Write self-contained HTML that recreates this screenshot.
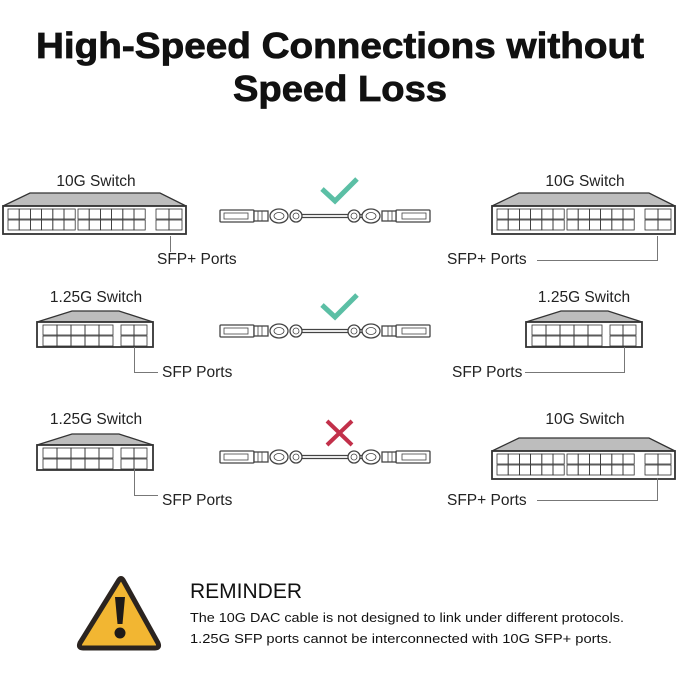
<!DOCTYPE html>
<html><head><meta charset="utf-8"><style>
html,body{margin:0;padding:0;background:#fff;}
svg{display:block;font-family:"Liberation Sans",sans-serif;}
</style></head><body>
<svg id="s" width="680" height="680" viewBox="0 0 680 680" xmlns="http://www.w3.org/2000/svg">
<defs>
<g id="cable" fill="#fff" stroke="#444" stroke-width="1.3">
  <rect x="220" y="-6" width="34" height="12" rx="1"/>
  <rect x="224" y="-3" width="24" height="6" fill="none" stroke-width="0.8"/>
  <rect x="254" y="-5" width="14" height="10"/>
  <line x1="258" y1="-5" x2="258" y2="5" stroke-width="0.8"/><line x1="262" y1="-5" x2="262" y2="5" stroke-width="0.8"/>
  <ellipse cx="279" cy="0" rx="9" ry="7"/><ellipse cx="279" cy="0" rx="5" ry="3.5" stroke-width="0.8"/>
  <ellipse cx="296" cy="0" rx="6" ry="6"/><ellipse cx="296" cy="0" rx="3" ry="3" stroke-width="0.8"/>
  <line x1="302" y1="-1.5" x2="378" y2="-1.5"/><line x1="302" y1="1.5" x2="378" y2="1.5"/>
  <g transform="translate(650,0) scale(-1,1)">
  <rect x="220" y="-6" width="34" height="12" rx="1"/>
  <rect x="224" y="-3" width="24" height="6" fill="none" stroke-width="0.8"/>
  <rect x="254" y="-5" width="14" height="10"/>
  <line x1="258" y1="-5" x2="258" y2="5" stroke-width="0.8"/><line x1="262" y1="-5" x2="262" y2="5" stroke-width="0.8"/>
  <ellipse cx="279" cy="0" rx="9" ry="7"/><ellipse cx="279" cy="0" rx="5" ry="3.5" stroke-width="0.8"/>
  <ellipse cx="296" cy="0" rx="6" ry="6"/><ellipse cx="296" cy="0" rx="3" ry="3" stroke-width="0.8"/>
  </g>
</g>
</defs>
<g stroke="#111" stroke-width="0.8">
<text x="340" y="58" text-anchor="middle" font-size="36" font-weight="bold" fill="#111" textLength="608" lengthAdjust="spacingAndGlyphs">High-Speed Connections without</text>
<text x="340" y="101" text-anchor="middle" font-size="36" font-weight="bold" fill="#111" textLength="214" lengthAdjust="spacingAndGlyphs">Speed Loss</text>
</g>

<g id="sw" fill="none" stroke="#333" stroke-width="1.3"></g>

<g font-size="15.5" fill="#222">
<text x="96" y="186" text-anchor="middle">10G Switch</text>
<text x="585" y="186" text-anchor="middle">10G Switch</text>
<text x="96" y="302" text-anchor="middle">1.25G Switch</text>
<text x="584" y="302" text-anchor="middle">1.25G Switch</text>
<text x="96" y="424" text-anchor="middle">1.25G Switch</text>
<text x="585" y="424" text-anchor="middle">10G Switch</text>
<text x="157" y="264">SFP+ Ports</text>
<text x="447" y="264">SFP+ Ports</text>
<text x="162" y="377">SFP Ports</text>
<text x="452" y="377">SFP Ports</text>
<text x="162" y="505">SFP Ports</text>
<text x="447" y="505">SFP+ Ports</text>
</g>
<g stroke="#777" stroke-width="1" fill="none">
<path d="M170.5 236 V252"/>
<path d="M657.5 236 V260.5 H537"/>
<path d="M134.5 347 V372.5 H158"/>
<path d="M624.5 347 V372.5 H525"/>
<path d="M134.5 469 V495.5 H158"/>
<path d="M657.5 478 V500.5 H537"/>
</g>

<use href="#cable" transform="translate(0,216)"/>
<use href="#cable" transform="translate(0,331)"/>
<use href="#cable" transform="translate(0,457)"/>

<path d="M322 189 L335 201 L357 179" fill="none" stroke="#5bbfa5" stroke-width="5"/>
<path d="M322 305 L335 317 L357 295" fill="none" stroke="#5bbfa5" stroke-width="5"/>
<path d="M327 421 L352 445 M352 421 L327 445" fill="none" stroke="#c2304a" stroke-width="4"/>

<path d="M119 580 Q121 577 123 580 L158 643 Q160 648 155 648 L83 648 Q78 648 80 643 Z" fill="#f2b632" stroke="#2b2420" stroke-width="5" stroke-linejoin="round"/>
<path d="M115 597 H125 L122.5 624 H117.5 Z" fill="#1e1a18"/>
<circle cx="120" cy="633" r="5.5" fill="#1e1a18"/>

<text x="190" y="598" font-size="21" fill="#111" textLength="112" lengthAdjust="spacingAndGlyphs">REMINDER</text>
<text x="190" y="622" font-size="13" fill="#111" textLength="434" lengthAdjust="spacingAndGlyphs">The 10G DAC cable is not designed to link under different protocols.</text>
<text x="190" y="643" font-size="13" fill="#111" textLength="422" lengthAdjust="spacingAndGlyphs">1.25G SFP ports cannot be interconnected with 10G SFP+ ports.</text>
</svg>
<script>
var g=document.getElementById('sw'),ns='http://www.w3.org/2000/svg';
function el(t,a,p){var e=document.createElementNS(ns,t);for(var k in a)e.setAttribute(k,a[k]);(p||g).appendChild(e);return e;}
function ports(x0,y0,cols,w){for(var r=0;r<2;r++)for(var c=0;c<cols;c++)el('rect',{x:x0+c*w,y:y0+r*11,width:w,height:10,'stroke-width':0.8});}
function sw10(x,y){
 el('path',{d:'M'+x+' '+(y+13)+' L'+(x+27)+' '+y+' L'+(x+157)+' '+y+' L'+(x+183)+' '+(y+13)+' Z',fill:'#bdbdbd'});
 el('rect',{x:x,y:y+13,width:183,height:28,fill:'#fff','stroke-width':1.8});
 ports(x+5,y+16,6,11.2);ports(x+75,y+16,6,11.2);
 ports(x+153,y+16,2,13);
}
function sw1(x,y){
 el('path',{d:'M'+x+' '+(y+11)+' L'+(x+35)+' '+y+' L'+(x+82)+' '+y+' L'+(x+116)+' '+(y+11)+' Z',fill:'#bdbdbd'});
 el('rect',{x:x,y:y+11,width:116,height:25,fill:'#fff','stroke-width':1.8});
 ports(x+6,y+14,5,14);ports(x+84,y+14,2,13);
}
sw10(3,193);sw10(492,193);
sw1(37,311);sw1(526,311);
sw1(37,434);sw10(492,438);
</script>
</body></html>
